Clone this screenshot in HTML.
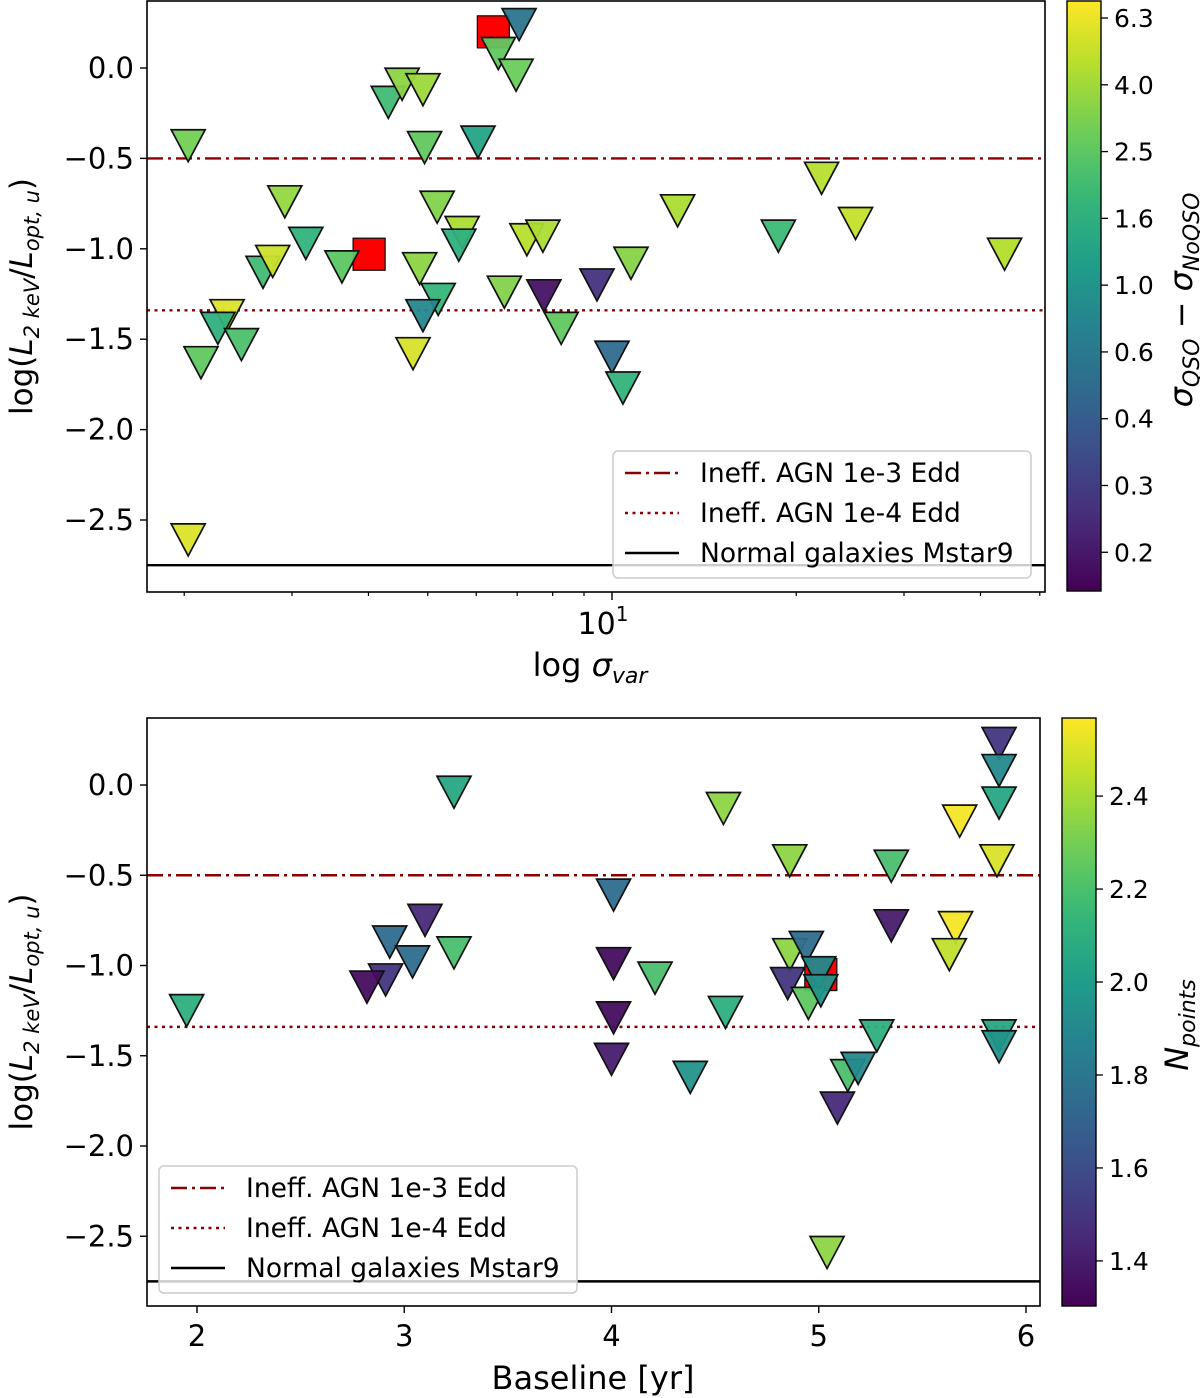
<!DOCTYPE html>
<html><head><meta charset="utf-8">
<style>
html,body{margin:0;padding:0;background:#fff;}
svg{display:block;font-family:"DejaVu Sans","Liberation Sans",sans-serif;}
</style></head>
<body>
<svg id="fig" width="1200" height="1398" viewBox="0 0 1200 1398" xmlns="http://www.w3.org/2000/svg">
<defs>
<linearGradient id="vir" x1="0" y1="1" x2="0" y2="0"></linearGradient>
</defs>
<g id="top"></g>
<g id="bot"></g>
</svg>
<script>
// ---------- Top panel data ----------
const topX = [2.03,7.05,6.52,6.97,4.31,4.54,4.91,4.94,6.04,2.92,3.16,2.69,2.79,3.62,5.18,5.69,5.62,7.26,7.71,10.74,9.45,7.74,6.67,4.85,5.20,4.91,4.73,8.26,10.0,10.42,2.35,2.27,2.48,2.13,2.03,12.8,18.7,22.0,25.0,43.8];
const topY = [-0.43,0.24,0.08,-0.04,-0.19,-0.09,-0.12,-0.44,-0.41,-0.74,-0.97,-1.13,-1.07,-1.10,-0.77,-0.91,-0.98,-0.95,-0.93,-1.08,-1.20,-1.26,-1.24,-1.11,-1.28,-1.37,-1.58,-1.44,-1.60,-1.77,-1.37,-1.44,-1.53,-1.63,-2.61,-0.79,-0.93,-0.61,-0.86,-1.03];
const topC = [3.0,0.6,2.6,2.8,2.0,3.5,3.9,2.6,1.3,3.7,1.7,2.0,5.2,2.5,3.3,4.3,1.6,4.6,4.3,3.4,0.22,0.15,3.3,3.5,1.8,0.8,5.6,2.6,0.5,1.7,5.8,1.6,2.2,2.6,5.8,4.3,1.9,4.6,5.0,4.5];
const topSqX = [6.40,4.01];
const topSqY = [0.20,-1.03];
const topYTicks = [0.0,-0.5,-1.0,-1.5,-2.0,-2.5];
const topYTickLabels = ["0.0","−0.5","−1.0","−1.5","−2.0","−2.5"];
const topXMinor = [2,3,4,5,6,7,8,9,20,30,40,50];
const topCbTicks = [6.3,4.0,2.5,1.6,1.0,0.6,0.4,0.3,0.2];
const topCbLogs = [0.8,0.6,0.4,0.2,0.0,-0.2,-0.4,-0.6,-0.8];
// ---------- Bottom panel data ----------
const botX = [5.87,5.87,5.87,5.68,5.86,4.54,4.86,5.35,4.01,5.35,5.66,5.63,4.01,4.21,4.01,4.55,4.00,4.38,5.28,5.87,5.87,5.14,5.19,5.09,4.86,4.94,4.85,4.95,5.00,5.01,5.04,3.24,3.10,2.93,3.24,3.04,2.91,2.82,1.95];
const botY = [0.23,0.08,-0.10,-0.20,-0.42,-0.13,-0.42,-0.45,-0.61,-0.78,-0.79,-0.94,-0.99,-1.07,-1.29,-1.26,-1.52,-1.62,-1.39,-1.39,-1.45,-1.61,-1.57,-1.79,-0.94,-0.90,-1.10,-1.21,-1.04,-1.14,-2.59,-0.04,-0.75,-0.87,-0.93,-0.98,-1.08,-1.12,-1.25];
const botC = [1.5,1.9,2.05,2.55,2.5,2.35,2.35,2.2,1.75,1.4,2.55,2.45,1.35,2.2,1.35,2.1,1.4,1.95,2.1,2.05,1.95,2.2,1.9,1.45,2.35,1.75,1.5,2.25,1.9,1.95,2.35,2.05,1.45,1.75,2.2,1.75,1.5,1.35,2.1];
const botSqX = [5.01];
const botSqY = [-1.05];
const botXTicks = [2,3,4,5,6];
const botXTickLabels = ["2","3","4","5","6"];
const botYTicks = [0.0,-0.5,-1.0,-1.5,-2.0,-2.5];
const botYTickLabels = ["0.0","−0.5","−1.0","−1.5","−2.0","−2.5"];
const botCbTicks = [2.4,2.2,2.0,1.8,1.6,1.4];
const botCbLabels = ["2.4","2.2","2.0","1.8","1.6","1.4"];
const hLinesY = [-0.5,-1.34,-2.75];

const NS="http://www.w3.org/2000/svg";
function mk(parent,tag,attrs,txt){const e=document.createElementNS(NS,tag);for(const k in attrs)e.setAttribute(k,attrs[k]);if(txt!==undefined)e.textContent=txt;parent.appendChild(e);return e;}
const VIR=[[68,1,84],[72,40,120],[62,74,137],[49,104,142],[38,130,142],[31,158,137],[53,183,121],[109,205,89],[180,222,44],[253,231,37]];
function viridis(t){t=Math.max(0,Math.min(1,t));const f=t*(VIR.length-1);const i=Math.min(VIR.length-2,Math.floor(f));const u=f-i;const a=VIR[i],b=VIR[i+1];return `rgb(${Math.round(a[0]+(b[0]-a[0])*u)},${Math.round(a[1]+(b[1]-a[1])*u)},${Math.round(a[2]+(b[2]-a[2])*u)})`;}
const grad=document.getElementById('vir');
for(let i=0;i<=20;i++){mk(grad,'stop',{offset:(i/20),'stop-color':viridis(i/20)});}

function tri(g,cx,cy,col,name){const p=mk(g,'polygon',{points:`${cx-17},${cy-16} ${cx+17},${cy-16} ${cx},${cy+16}`,fill:col,'fill-opacity':0.95,stroke:'#111','stroke-width':1.7,'stroke-linejoin':'miter'});

}
function sq(g,cx,cy,name){const r=mk(g,'rect',{x:cx-16,y:cy-16,width:32,height:32,fill:'#ff0000',stroke:'#111','stroke-width':1.3});

}

function panel(g,o){
  const {L,R,T,B,xs,ys,cmap}=o;
  mk(g,'rect',{x:L,y:T,width:R-L,height:B-T,fill:'#fff'});
  const styles=[{'stroke-dasharray':'16,5,3,5'},{'stroke-dasharray':'3,4.5'},{}];
  const cols=['#8b0000','#8b0000','#000'];
  const names=['line-1e-3-edd','line-1e-4-edd','line-normal-galaxies'];
  hLinesY.forEach((v,i)=>{const l=mk(g,'line',Object.assign({x1:L,x2:R,y1:ys(v),y2:ys(v),stroke:cols[i],'stroke-width':2.4},styles[i]));
    
    });
  o.sqX.forEach((x,i)=>sq(g,xs(x),ys(o.sqY[i]),'red-square-'+i));
  o.X.forEach((x,i)=>tri(g,xs(x),ys(o.Y[i]),viridis(cmap(o.C[i])),'upper-limit-'+i));
  mk(g,'rect',{x:L,y:T,width:R-L,height:B-T,fill:'none',stroke:'#000','stroke-width':1.6,});
  o.yT.forEach((v,i)=>{const y=ys(v);mk(g,'line',{x1:L-7,x2:L,y1:y,y2:y,stroke:'#000','stroke-width':1.4});
    mk(g,'text',{x:L-13,y:y+10,'text-anchor':'end','font-size':29,fill:'#000',},o.yL[i]);});
  // legend
  const lg=mk(g,'g',{});
  mk(lg,'rect',{x:o.lx,y:o.ly,width:418,height:127,rx:5,fill:'#fff','fill-opacity':0.8,stroke:'#ccc','stroke-width':1.5});
  const labs=['Ineff. AGN 1e-3 Edd','Ineff. AGN 1e-4 Edd','Normal galaxies Mstar9'];
  labs.forEach((t,i)=>{const y=o.ly+22+i*40;
    mk(lg,'line',Object.assign({x1:o.lx+12,x2:o.lx+66,y1:y,y2:y,stroke:cols[i],'stroke-width':2.4},styles[i]));
    mk(lg,'text',{x:o.lx+87,y:y+9,'font-size':26.5,fill:'#000',},t);});
  // y label
  const yl=mk(g,'text',{transform:`translate(32,${(T+B)/2}) rotate(-90)`,'text-anchor':'middle','font-size':31,});
  yl.innerHTML='log(<tspan font-style="italic">L</tspan><tspan font-size="21" dy="7" font-style="italic">2 keV</tspan><tspan dy="-7">/</tspan><tspan font-style="italic">L</tspan><tspan font-size="21" dy="7" font-style="italic">opt, u</tspan><tspan dy="-7">)</tspan>';
}

// ---- top panel
const tg=document.getElementById('top');
const tL=147,tR=1045,tT=1,tB=592;
const txs=x=>612+612*(Math.log10(x)-1);
const tys=y=>68-y*180.8;
const tcm=c=>(Math.log10(c)+0.916)/1.767;
panel(tg,{L:tL,R:tR,T:tT,B:tB,xs:txs,ys:tys,cmap:tcm,X:topX,Y:topY,C:topC,sqX:topSqX,sqY:topSqY,yT:topYTicks,yL:topYTickLabels,lx:613,ly:451});
topXMinor.forEach(v=>mk(tg,'line',{x1:txs(v),x2:txs(v),y1:tB,y2:tB+4,stroke:'#000','stroke-width':1.2}));
mk(tg,'line',{x1:txs(10),x2:txs(10),y1:tB,y2:tB+8,stroke:'#000','stroke-width':1.4});
const t10=mk(tg,'text',{x:txs(10)-9,y:tB+42,'text-anchor':'middle','font-size':30,});
t10.innerHTML='10<tspan font-size="20" dy="-13">1</tspan>';
const txl=mk(tg,'text',{x:590,y:676,'text-anchor':'middle','font-size':32,});
txl.innerHTML='log <tspan font-style="italic">σ</tspan><tspan font-size="22" dy="7" font-style="italic">var</tspan>';
// top colorbar
const cbT=mk(tg,'g',{});
mk(cbT,'rect',{x:1067,y:1,width:34,height:590,fill:'url(#vir)',stroke:'#000','stroke-width':1.4});
topCbLogs.forEach((lv,i)=>{const y=1+590*(1-(lv+0.916)/1.767);
  mk(cbT,'line',{x1:1101,x2:1108,y1:y,y2:y,stroke:'#000','stroke-width':1.3});
  mk(cbT,'text',{x:1114,y:y+9,'font-size':25,},topCbTicks[i].toFixed(1));});
const ctt=mk(cbT,'text',{transform:'translate(1192,300) rotate(-90)','text-anchor':'middle','font-size':32,});
ctt.innerHTML='<tspan font-style="italic">σ</tspan><tspan font-size="22" dy="7" font-style="italic">QSO</tspan><tspan dy="-7"> − </tspan><tspan font-style="italic">σ</tspan><tspan font-size="22" dy="7" font-style="italic">NoQSO</tspan>';

// ---- bottom panel
const bg=document.getElementById('bot');
const bL=147,bR=1040,bT=718,bB=1306;
const bxs=x=>197+(x-2)*207.25;
const bys=y=>785-y*180.5;
const bcm=c=>(c-1.303)/(2.568-1.303);
panel(bg,{L:bL,R:bR,T:bT,B:bB,xs:bxs,ys:bys,cmap:bcm,X:botX,Y:botY,C:botC,sqX:botSqX,sqY:botSqY,yT:botYTicks,yL:botYTickLabels,lx:159,ly:1166});
botXTicks.forEach((v,i)=>{const x=bxs(v);mk(bg,'line',{x1:x,x2:x,y1:bB,y2:bB+7,stroke:'#000','stroke-width':1.4});
  mk(bg,'text',{x:x,y:bB+40,'text-anchor':'middle','font-size':29,},botXTickLabels[i]);});
mk(bg,'text',{x:593,y:1389,'text-anchor':'middle','font-size':32,},'Baseline [yr]');
const cbB=mk(bg,'g',{});
mk(cbB,'rect',{x:1062,y:718,width:34,height:588,fill:'url(#vir)',stroke:'#000','stroke-width':1.4});
botCbTicks.forEach((v,i)=>{const y=718+588*(1-(v-1.303)/(2.568-1.303));
  mk(cbB,'line',{x1:1096,x2:1103,y1:y,y2:y,stroke:'#000','stroke-width':1.3});
  mk(cbB,'text',{x:1109,y:y+9,'font-size':25,},botCbLabels[i]);});
const cbt2=mk(cbB,'text',{transform:'translate(1188,1025) rotate(-90)','text-anchor':'middle','font-size':32,});
cbt2.innerHTML='<tspan font-style="italic">N</tspan><tspan font-size="22" dy="7" font-style="italic">points</tspan>';
</script>
</body></html>
